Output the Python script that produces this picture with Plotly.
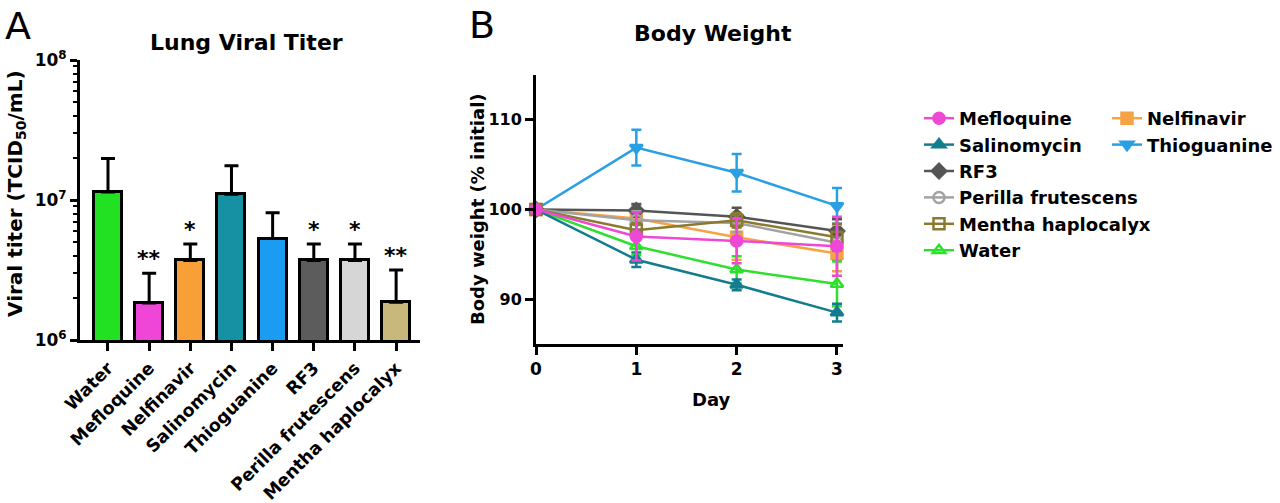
import math
import plotly.graph_objects as go

# ---------------- Data ----------------
titer_groups = ["Water", "Mefloquine", "Nelfinavir", "Salinomycin", "Thioguanine",
                "RF3", "Perilla frutescens", "Mentha haplocalyx"]
titer_mean = [1.14e7, 1.84e6, 3.7e6, 1.10e7, 5.3e6, 3.7e6, 3.7e6, 1.86e6]
titer_err = [0.84e7, 1.16e6, 1.15e6, 0.66e7, 2.8e6, 1.15e6, 1.15e6, 1.3e6]
titer_sig = ["", "**", "*", "", "", "*", "*", "**"]
titer_colors = ["#22E022", "#F046D8", "#F99F38", "#1690A3", "#1A9CF2",
                "#5C5C5C", "#D6D6D6", "#C9B87C"]

days = [0, 1, 2, 3]
bw_series = ["Nelfinavir", "Thioguanine", "RF3", "Perilla frutescens",
             "Mentha haplocalyx", "Water", "Salinomycin", "Mefloquine"]
bw_mean = {
    "Mefloquine": [100, 97.0, 96.5, 95.9],
    "Nelfinavir": [100, 99.0, 96.9, 95.1],
    "Salinomycin": [100, 94.4, 91.6, 88.5],
    "Thioguanine": [100, 106.9, 104.1, 100.4],
    "RF3": [100, 99.9, 99.2, 97.6],
    "Perilla frutescens": [100, 98.8, 98.5, 96.3],
    "Mentha haplocalyx": [100, 97.7, 98.8, 96.9],
    "Water": [100, 95.9, 93.3, 91.7],
}
bw_err = {
    "Mefloquine": [0, 2.7, 2.5, 3.3],
    "Nelfinavir": [0, 1.5, 2.5, 2.0],
    "Salinomycin": [0, 0.8, 0.6, 1.0],
    "Thioguanine": [0, 2.0, 2.1, 2.0],
    "RF3": [0, 0.7, 1.0, 1.3],
    "Perilla frutescens": [0, 1.0, 1.0, 2.0],
    "Mentha haplocalyx": [0, 0.8, 0.8, 1.5],
    "Water": [0, 1.0, 1.5, 2.5],
}
bw_colors = {
    "Mefloquine": "#EE48D6", "Nelfinavir": "#F6A347", "Salinomycin": "#137D8E",
    "Thioguanine": "#2A9FE4", "RF3": "#555555", "Perilla frutescens": "#A3A3A3",
    "Mentha haplocalyx": "#8A7A30", "Water": "#2EE02E",
}
bw_symbols = {
    "Mefloquine": "circle", "Nelfinavir": "square", "Salinomycin": "triangle-up",
    "Thioguanine": "triangle-down", "RF3": "diamond", "Perilla frutescens": "circle-open",
    "Mentha haplocalyx": "square-open", "Water": "triangle-up-open",
}
legend_order = ["Mefloquine", "Nelfinavir", "Salinomycin", "Thioguanine", "RF3",
                "Perilla frutescens", "Mentha haplocalyx", "Water"]
legend_col2 = ["Nelfinavir", "Thioguanine"]

FONT = "'DejaVu Sans', Arial, sans-serif"
W, H = 1280, 503

fig = go.Figure()

# -------- Panel A --------
fig.add_trace(go.Bar(
    x=titer_groups, y=titer_mean, width=0.68,
    marker=dict(color=titer_colors, line=dict(color="black", width=3)),
    error_y=dict(type="data", array=titer_err, arrayminus=[0] * len(titer_err),
                 symmetric=False, color="black", thickness=3, width=7),
    xaxis="x", yaxis="y", showlegend=False,
))

# -------- Panel B --------
for name in bw_series:
    c = bw_colors[name]
    fig.add_trace(go.Scatter(
        x=days, y=bw_mean[name], name=name, mode="lines+markers",
        line=dict(color=c, width=2.5),
        marker=dict(symbol=bw_symbols[name], size=11, color=c, line=dict(color=c, width=2.5)),
        error_y=dict(type="data", array=bw_err[name], color=c, thickness=2.5, width=5),
        xaxis="x2", yaxis="y2", cliponaxis=False,
        legend="legend2" if name in legend_col2 else "legend",
        legendrank=legend_order.index(name) + 1,
    ))


def px_x(p):
    return p / W


def px_y(p):
    return 1 - p / H


def tfont(size):
    return dict(family=FONT, size=size, color="black", weight="bold")


axis_common = dict(showline=True, linecolor="black", linewidth=3, ticks="outside",
                   tickcolor="black", tickwidth=3, showgrid=False, zeroline=False,
                   automargin=False)

fig.update_layout(
    width=W, height=H, margin=dict(l=0, r=0, t=0, b=0, autoexpand=False),
    plot_bgcolor="white", paper_bgcolor="white",
    font=dict(family=FONT, color="black"),
    xaxis=dict(domain=[px_x(80), px_x(420)], anchor="y", range=[-0.68, 7.58],
               ticklen=8, tickangle=-45, tickfont=tfont(17.5), **axis_common),
    yaxis=dict(domain=[px_y(340), px_y(60)], anchor="x", type="log", range=[6, 8],
               tickvals=[1e6, 1e7, 1e8],
               ticktext=["10<sup>6</sup>", "10<sup>7</sup>", "10<sup>8</sup>"],
               ticklen=7, tickfont=tfont(17),
               minor=dict(ticks="outside", ticklen=4, tickwidth=2, tickcolor="black",
                          tickvals=[2e6, 3e6, 4e6, 5e6, 6e6, 7e6, 8e6, 9e6,
                                    2e7, 3e7, 4e7, 5e7, 6e7, 7e7, 8e7, 9e7]),
               **axis_common),
    xaxis2=dict(domain=[px_x(536), px_x(843)], anchor="y2", range=[0, 3.06],
                tickvals=[0, 1, 2, 3], ticklen=8, tickfont=tfont(17), **axis_common),
    yaxis2=dict(domain=[px_y(344), px_y(75)], anchor="x2", range=[85, 115],
                tickvals=[90, 100, 110], ticklen=8, tickfont=tfont(16), **axis_common),
    legend=dict(x=px_x(919), y=px_y(100), xanchor="left", yanchor="top",
                font=tfont(18), bgcolor="rgba(0,0,0,0)", itemwidth=30),
    legend2=dict(x=px_x(1107), y=px_y(100), xanchor="left", yanchor="top",
                 font=tfont(18), bgcolor="rgba(0,0,0,0)", itemwidth=30),
    bargap=0,
)


def ann(text, x, y, font, angle=0):
    return dict(text=text, x=px_x(x), y=px_y(y), xref="paper", yref="paper",
                xanchor="center", yanchor="middle", showarrow=False,
                textangle=angle, font=font)


annotations = [
    ann("A", 18, 26, dict(family=FONT, size=38, color="black")),
    ann("B", 482, 25, dict(family=FONT, size=38, color="black")),
    ann("Lung Viral Titer", 246, 43, tfont(22)),
    ann("Body Weight", 713, 33, tfont(22)),
    ann("Viral titer (TCID<sub>50</sub>/mL)", 16, 194, tfont(20), -90),
    ann("Body weight (% initial)", 477, 209, tfont(18), -90),
    ann("Day", 711, 399, tfont(18)),
]
for g, m, e, s in zip(titer_groups, titer_mean, titer_err, titer_sig):
    if s:
        annotations.append(dict(text=s, x=g, y=math.log10(m + e), xref="x", yref="y",
                                showarrow=False, xanchor="center", yanchor="bottom", yshift=0,
                                font=tfont(22)))
fig.update_layout(annotations=annotations)

fig.write_html("out.html", config={"displayModeBar": False},
               post_script="document.body.style.margin='0';")
